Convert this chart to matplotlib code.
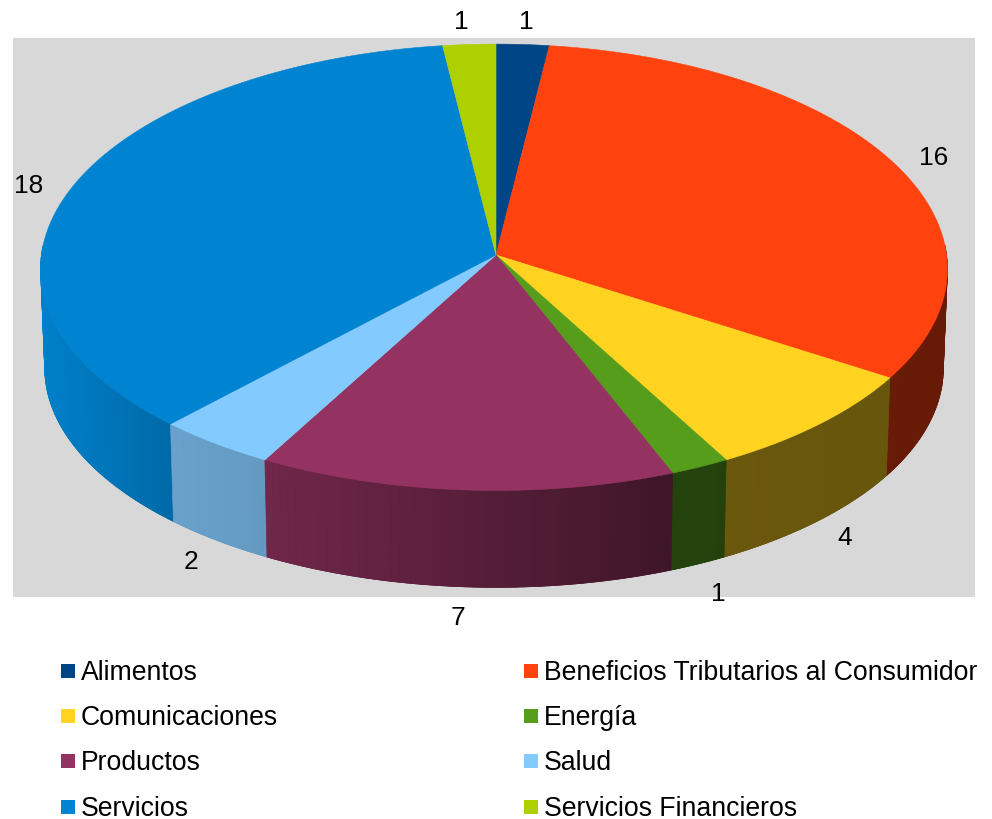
import numpy as np
import matplotlib
matplotlib.use("Agg")
import matplotlib.pyplot as plt
from matplotlib.patches import Rectangle

plt.rcParams["font.family"] = ["Liberation Sans", "DejaVu Sans"]

# ----------------------------
# Data
# ----------------------------
categories = ["Alimentos", "Beneficios Tributarios al Consumidor", "Comunicaciones", "Energía",
              "Productos", "Salud", "Servicios", "Servicios Financieros"]
values = [1, 16, 4, 1, 7, 2, 18, 1]
colors = ["#004586", "#ff420e", "#ffd320", "#579d1c", "#943361", "#83caff", "#0084d1", "#aecf00"]
label_pos = [(526, 22), (934, 158), (845, 538), (718, 594), (458, 618), (191, 562), (29, 186), (461, 22)]

# ----------------------------
# Pie geometry (pixels)
# ----------------------------
CX, CY = 496, 255
RX, RY = 452.5, 222.5
KX, KY = 0.0625, 0.055
WALL = 99
LOWER = 0.991

# wall darkening from left to right
shade_x = [41, 171, 267, 496, 672, 990]
shade_f = [0.97, 0.80, 0.76, 0.57, 0.42, 0.40]


def project(theta, scale=1.0, dy=0.0):
    u, v = np.sin(theta), np.cos(theta)
    x = CX + scale * RX * u / (1 + KX * v) - 2 * u * u
    y = CY + dy - scale * RY * v / (1 + KY * v)
    return x, y


def darker(color, f):
    rgb = np.array(matplotlib.colors.to_rgb(color))
    return tuple(rgb * f)


fig = plt.figure(figsize=(9.92, 8.19), dpi=100)
ax = fig.add_axes([0, 0, 1, 1])
ax.set_xlim(0, 992)
ax.set_ylim(819, 0)
ax.axis("off")

ax.add_patch(Rectangle((13, 38), 962, 559, facecolor="#d8d8d8", edgecolor="none"))

edges = np.radians(np.concatenate([[0], np.cumsum(values)]) / sum(values) * 360)

# ----------------------------
# Side wall: flat underlay, then gradient strips front-most last
# ----------------------------
strips = []
for i, c in enumerate(colors):
    t = np.linspace(edges[i], edges[i + 1], max(2, int(np.degrees(edges[i + 1] - edges[i]))) + 1)
    t = t[np.cos(t) < 0.05]  # the back of the wall is hidden
    if len(t) < 2:
        continue
    xt, yt = project(t)
    xb, yb = project(t[::-1], LOWER, WALL)
    mid = darker(c, np.interp(xt.mean(), shade_x, shade_f))
    ax.fill(np.r_[xt, xb], np.r_[yt, yb], color=mid, lw=0.5)
    for a, b in zip(t[:-1], t[1:]):
        strips.append((np.cos((a + b) / 2), a, b, c))

strips.sort(key=lambda s: -s[0])
for _, a, b, c in strips:
    x1, y1 = project(a)
    x2, y2 = project(b)
    x3, y3 = project(b, LOWER, WALL)
    x4, y4 = project(a, LOWER, WALL)
    col = darker(c, np.interp((x1 + x2) / 2, shade_x, shade_f))
    ax.fill([x1, x2, x3, x4], [y1, y2, y3, y4], color=col, lw=0.5)

# ----------------------------
# Top of the pie
# ----------------------------
for i, c in enumerate(colors):
    t = np.linspace(edges[i], edges[i + 1], 120)
    x, y = project(t)
    ax.fill(np.r_[CX, x], np.r_[CY, y], color=c, lw=0.4)

for v, (lx, ly) in zip(values, label_pos):
    ax.text(lx, ly, str(v), fontsize=19, ha="center", va="center", color="black")

# ----------------------------
# Legend
# ----------------------------
rows = [671, 716, 761, 807]
for i, (name, c) in enumerate(zip(categories, colors)):
    col_x = 61 if i % 2 == 0 else 524
    row_y = rows[i // 2]
    ax.add_patch(Rectangle((col_x, row_y - 7), 14, 14, facecolor=c, edgecolor="none"))
    ax.text(col_x + 20, row_y + 9, name, fontsize=19.2, ha="left", va="baseline", color="black")

plt.savefig("out.png", dpi=100)
plt.close()
